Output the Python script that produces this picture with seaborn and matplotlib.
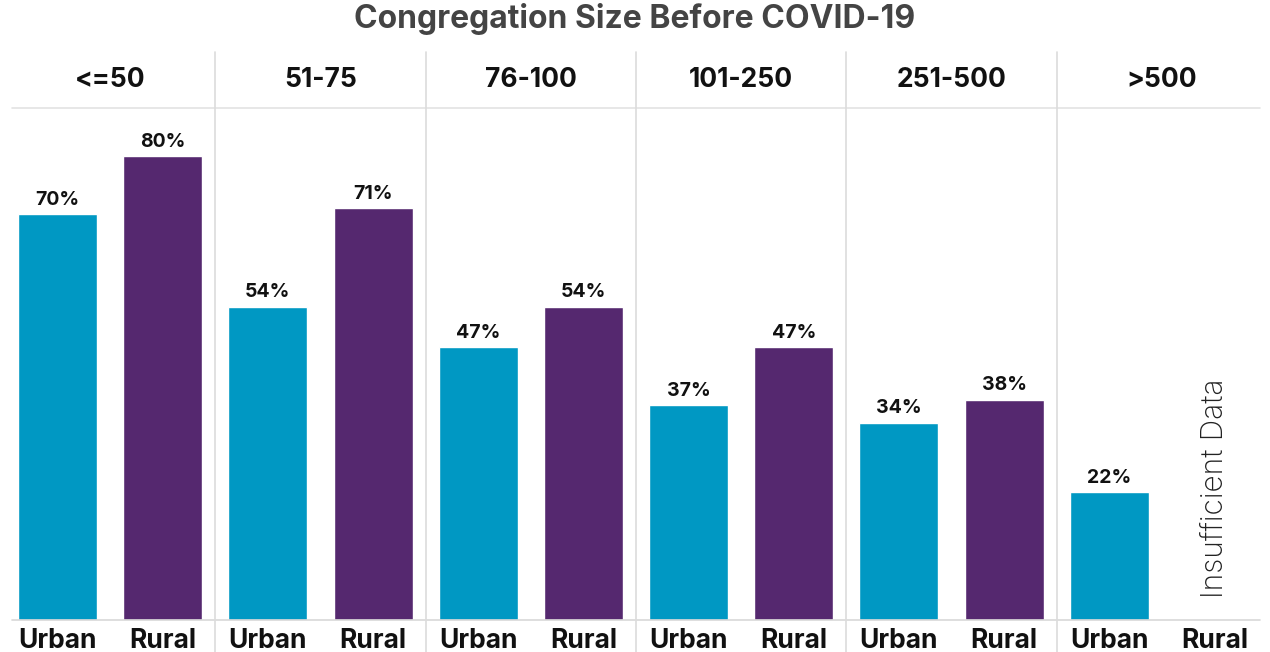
import matplotlib
matplotlib.use("Agg")
import matplotlib.pyplot as plt
import seaborn as sns
import pandas as pd
import numpy as np
from matplotlib.lines import Line2D

sizes = ['<=50', '51-75', '76-100', '101-250', '251-500', '>500']
areas = ['Urban', 'Rural']
urban = [70, 54, 47, 37, 34, 22]
rural = [80, 71, 54, 47, 38, np.nan]
title = 'Congregation Size Before COVID-19'
colors = {'Urban': '#0098c3', 'Rural': '#55286f'}

rows = []
for s, u, r in zip(sizes, urban, rural):
    rows.append({'size': s, 'area': 'Urban', 'value': u})
    rows.append({'size': s, 'area': 'Rural', 'value': r})
df = pd.DataFrame(rows)

sns.set_theme(style='white')
plt.rcParams['font.family'] = ['Inter', 'DejaVu Sans']

W, H = 1270, 652
fig = plt.figure(figsize=(W / 100, H / 100), dpi=100)
left_px, right_px = 5, 1267
top_px, bot_px = 108, 620
fw = (right_px - left_px) / len(sizes)
axes = []
for i, s in enumerate(sizes):
    x0 = left_px + i * fw
    ax = fig.add_axes([x0 / W, 1 - bot_px / H, fw / W, (bot_px - top_px) / H])
    sub = df[df['size'] == s]
    sns.barplot(data=sub, x='area', y='value', hue='area', order=areas,
                hue_order=areas, palette=colors, width=0.75, dodge=False,
                legend=False, ax=ax, saturation=1)
    ax.set_ylim(0, 88.3)
    ax.set_xlim(-0.5, 1.5)
    ax.set_xlabel('')
    ax.set_ylabel('')
    ax.set_yticks([])
    for sp in ax.spines.values():
        sp.set_visible(False)
    ax.tick_params(axis='x', length=0, pad=6)
    for lab in ax.get_xticklabels():
        lab.set_fontsize(19)
        lab.set_fontweight('bold')
        lab.set_color('#111111')
    for j, a in enumerate(areas):
        v = sub[sub['area'] == a]['value'].values[0]
        if not np.isnan(v):
            ax.annotate(f'{int(v)}%', (j, v), xytext=(0, 4), textcoords='offset points',
                        ha='center', va='bottom', fontsize=14, fontweight='bold',
                        color='#111111')
    ax.text(0.5, 1 + 28 / (bot_px - top_px), s, transform=ax.transAxes,
            ha='center', va='center', fontsize=19, fontweight='bold', color='#111111')
    axes.append(ax)

axes[-1].text(1, 22.8, 'Insufficient Data', rotation=90, ha='center', va='center',
              fontsize=21.5, fontweight='light', color='#222222')

# grid lines
fig.add_artist(Line2D([12 / W, 1260 / W], [1 - top_px / H] * 2, color='#e3e3e3', lw=1.2))
fig.add_artist(Line2D([12 / W, 1260 / W], [1 - bot_px / H] * 2, color='#d8d8d8', lw=1.2))
for i in range(1, len(sizes)):
    x = (left_px + i * fw) / W
    fig.add_artist(Line2D([x, x], [0, 1 - 52 / H], color='#dcdcdc', lw=1.2))

fig.text(0.5, 1 - 19 / H, title, ha='center', va='center', fontsize=23,
         fontweight='bold', color='#444444')

fig.savefig('out.png', dpi=100, facecolor='white')
